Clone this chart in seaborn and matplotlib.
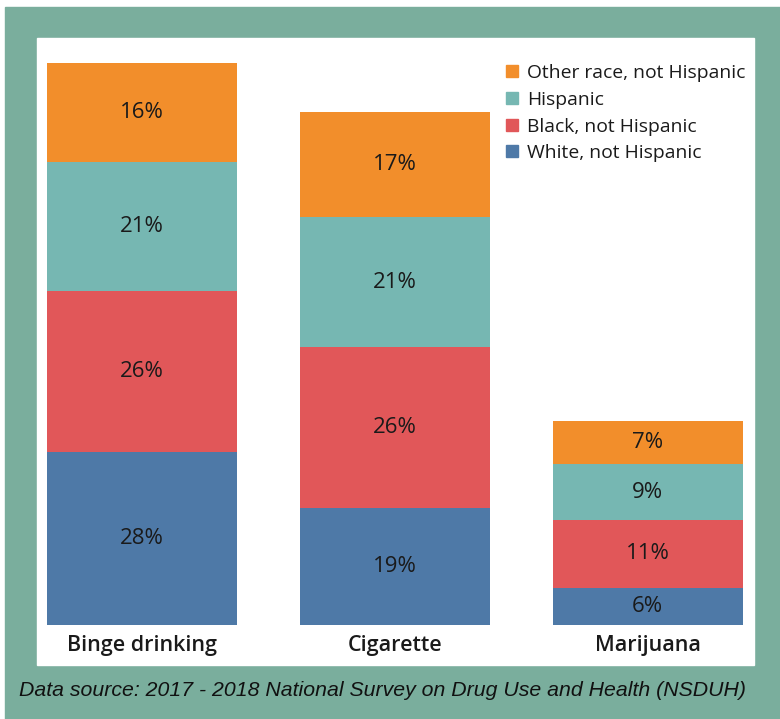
import numpy as np
import pandas as pd
import seaborn as sns
import matplotlib.pyplot as plt
from matplotlib.patches import Rectangle
from matplotlib.lines import Line2D

# datos (porcentajes)
substances = ['Binge drinking', 'Cigarette', 'Marijuana']
groups = ['White, not Hispanic', 'Black, not Hispanic', 'Hispanic', 'Other race, not Hispanic']
white = [28, 19, 6]
black = [26, 26, 11]
hispanic = [21, 21, 9]
other = [16, 17, 7]
colors = ['#4e79a7', '#e15759', '#76b7b2', '#f28e2b']

df = pd.DataFrame({'Substance': substances, groups[0]: white, groups[1]: black,
                   groups[2]: hispanic, groups[3]: other})

W, H = 780, 719
fig = plt.figure(figsize=(W / 100, H / 100), dpi=100)
fig.patch.set_facecolor('white')

# fondo verde y panel blanco (en pixeles)
def px_rect(x0, y0, x1, y1, color):
    fig.patches.append(Rectangle((x0 / W, 1 - y1 / H), (x1 - x0) / W, (y1 - y0) / H,
                                 transform=fig.transFigure, color=color, zorder=-2))

px_rect(5, 7, 780, 719, '#7aae9d')
px_rect(37, 38, 754, 665, 'white')

ax_l, ax_r, ax_t, ax_b = 37, 754, 38, 625
ax = fig.add_axes([ax_l / W, 1 - ax_b / H, (ax_r - ax_l) / W, (ax_b - ax_t) / H])
ax.set_facecolor('none')

cum = df[groups].cumsum(axis=1)
for i in range(len(groups) - 1, -1, -1):
    sns.barplot(x=df['Substance'], y=cum[groups[i]], color=colors[i], width=0.75,
                saturation=1, ax=ax, order=substances)

# etiquetas
for j in range(len(substances)):
    bottom = 0
    for i, g in enumerate(groups):
        v = df[g][j]
        ax.text(j, bottom + v / 2, f'{v}%', ha='center', va='center', fontsize=16,
                color='#1a1a1a', family='Open Sans')
        bottom += v

ax.set_xlim(-0.415, 2.42)
ax.set_ylim(0, 95)
ax.set_xlabel('')
ax.set_ylabel('')
ax.set_yticks([])
ax.tick_params(axis='x', length=0, pad=7, labelsize=15.5, labelcolor='#1a1a1a')
for lbl in ax.get_xticklabels():
    lbl.set_family('Open Sans')
    lbl.set_weight('semibold')
for s in ax.spines.values():
    s.set_visible(False)

handles = [Line2D([], [], marker='s', linestyle='none', markersize=8, color=colors[i])
           for i in range(len(groups) - 1, -1, -1)]
labels = [groups[i] for i in range(len(groups) - 1, -1, -1)]
leg = ax.legend(handles, labels, loc='upper right', bbox_to_anchor=(1.012, 0.985),
                frameon=False, handletextpad=0.25, labelspacing=0.45, handlelength=1.0,
                prop={'family': 'Open Sans', 'size': 13.9})
for t in leg.get_texts():
    t.set_color('#1a1a1a')

fig.text(19 / W, 1 - 690 / H, 'Data source: 2017 - 2018 National Survey on Drug Use and Health (NSDUH)',
         ha='left', va='center', fontsize=15.3, style='italic', family='Liberation Sans', color='#111111')

fig.savefig('out.png', dpi=100)
